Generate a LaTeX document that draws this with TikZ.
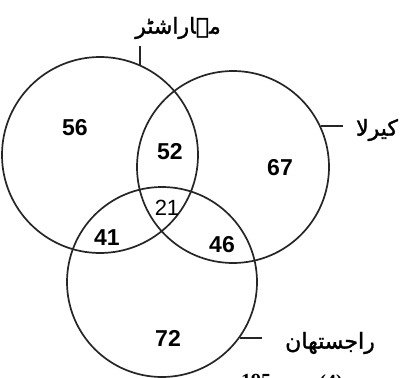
\documentclass[tikz,border=0pt]{standalone}
\usepackage{fontspec}
\setmainfont{Liberation Serif}
\newfontfamily\numfont{Liberation Sans}
\newfontfamily\urdufont[Script=Arabic,FakeBold=1.5]{DejaVu Sans}
\TeXXeTstate=1
\begin{document}
\begin{tikzpicture}[x=1pt,y=-1pt,
  setc/.style={draw=black!85,line width=1.7pt,circle,inner sep=0pt,minimum size=#1},
  num/.style={font=\numfont\bfseries\fontsize{23}{23}\selectfont},
  numlight/.style={font=\numfont\fontsize{22}{22}\selectfont},
  lbl/.style={font=\urdufont\fontsize{22}{24}\selectfont},
  conn/.style={draw=black!85,line width=1.7pt}]
\useasboundingbox[fill=white] (0,0) rectangle (406,377);
\node[setc=196pt] (m) at (100,155) {};
\node[setc=192pt] (k) at (233,167) {};
\node[setc=190pt] (r) at (162,282) {};
\node[num] (n56) at (75,128) {56};
\node[num] (n52) at (170,152) {52};
\node[num] (n67) at (280,168) {67};
\node[numlight] (n21) at (167,208) {21};
\node[num] (n41) at (107,238) {41};
\node[num] (n46) at (222,245) {46};
\node[num] (n72) at (168,338) {72};
\coordinate (mt) at (140,46);
\coordinate (kt) at (343,126);
\coordinate (rt) at (262,338);
\draw[conn] (m.66) -- (m.66 |- mt);
\draw[conn] (k.25.3) -- (k.25.3 -| kt);
\draw[conn] (r.-36.1) -- (r.-36.1 -| rt);
\node[lbl] (lm) at (178,28) {\beginR مہاراشٹر\endR};
\node[lbl] (lk) at (377,130) {\beginR کیرلا\endR};
\node[lbl] (lr) at (330,343) {\beginR راجستھان\endR};
\begin{scope}
\clip (0,0) rectangle (406,377);
\node[anchor=north,font=\bfseries\fontsize{20}{20}\selectfont] (p195) at (256,371) {195};
\node[anchor=north,font=\bfseries\fontsize{20}{20}\selectfont] (p4) at (331,371) {(4)};
\end{scope}
\end{tikzpicture}
\end{document}
